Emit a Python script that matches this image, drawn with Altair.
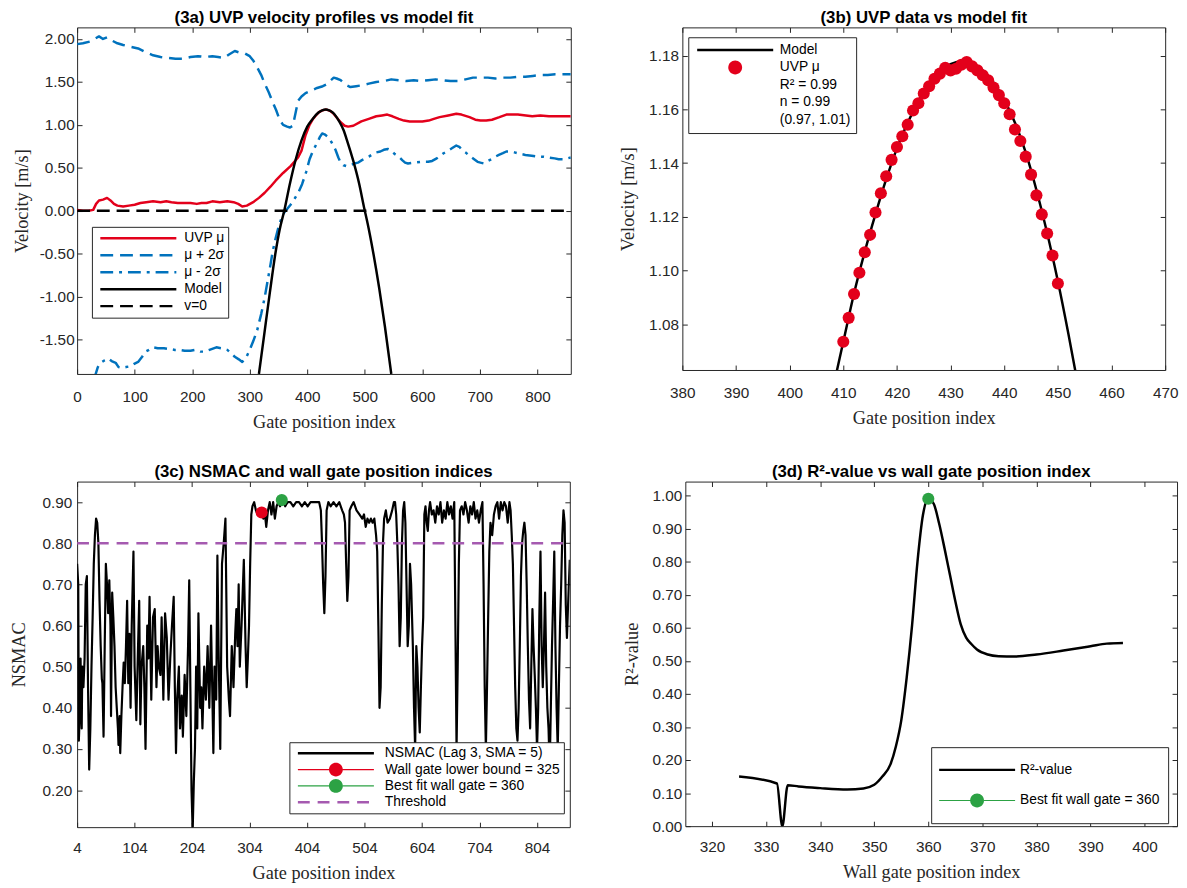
import altair as alt
import pandas as pd

# ---------------------------------------------------------------- data
# (3a) UVP velocity profiles vs model fit  -> (gate index, velocity m/s)
uvp_mu = [(0, 0.01), (10, 0.00), (20, 0.00), (28, 0.01), (33, 0.08), (38, 0.12), (45, 0.13), (52, 0.15),
          (58, 0.12), (64, 0.08), (70, 0.06), (80, 0.05), (90, 0.06), (100, 0.07), (110, 0.09), (120, 0.10),
          (132, 0.11), (145, 0.10), (155, 0.11), (164, 0.10), (175, 0.09), (185, 0.09), (197, 0.09),
          (208, 0.08), (216, 0.09), (225, 0.09), (235, 0.11), (248, 0.10), (261, 0.11), (272, 0.10),
          (280, 0.08), (287, 0.05), (295, 0.06), (306, 0.10), (316, 0.15), (326, 0.21), (336, 0.28),
          (345, 0.35), (358, 0.44), (371, 0.52), (384, 0.62), (390, 0.70), (397, 0.88), (404, 1.00),
          (410, 1.07), (415, 1.11), (420, 1.146), (425, 1.166), (430, 1.175), (433, 1.178), (436, 1.172),
          (440, 1.162), (445, 1.135), (450, 1.095), (458, 1.03), (465, 0.99), (471, 0.98), (480, 0.99),
          (494, 1.04), (507, 1.07), (520, 1.10), (530, 1.11), (539, 1.12), (548, 1.10), (559, 1.07),
          (568, 1.05), (578, 1.04), (590, 1.04), (600, 1.04), (611, 1.05), (620, 1.07), (630, 1.09),
          (645, 1.11), (659, 1.13), (668, 1.12), (682, 1.09), (692, 1.06), (701, 1.05), (711, 1.05),
          (721, 1.06), (734, 1.09), (746, 1.12), (756, 1.12), (766, 1.12), (780, 1.11), (791, 1.10),
          (805, 1.11), (820, 1.10), (835, 1.10), (845, 1.10), (858, 1.10)]
mu_plus_2sigma = [(0, 1.94), (10, 1.95), (22, 1.97), (30, 2.00), (38, 2.03), (45, 2.00), (52, 2.02), (61, 1.98),
                  (70, 1.95), (80, 1.93), (93, 1.91), (106, 1.89), (118, 1.85), (132, 1.81), (145, 1.79),
                  (158, 1.78), (171, 1.77), (184, 1.77), (197, 1.79), (210, 1.80), (222, 1.79), (235, 1.80),
                  (245, 1.79), (255, 1.78), (264, 1.82), (274, 1.86), (283, 1.84), (292, 1.83), (300, 1.80),
                  (306, 1.75), (313, 1.67), (320, 1.58), (326, 1.48), (333, 1.38), (339, 1.28), (346, 1.17),
                  (352, 1.06), (358, 1.00), (365, 0.98), (370, 0.97), (375, 0.99), (380, 1.15), (384, 1.28),
                  (390, 1.33), (397, 1.37), (407, 1.40), (417, 1.43), (427, 1.45), (436, 1.48), (441, 1.52),
                  (446, 1.55), (451, 1.54), (458, 1.52), (466, 1.47), (475, 1.44), (485, 1.45), (494, 1.46),
                  (507, 1.48), (520, 1.50), (533, 1.51), (546, 1.53), (559, 1.52), (572, 1.51), (585, 1.52),
                  (598, 1.51), (610, 1.52), (623, 1.53), (636, 1.52), (649, 1.51), (662, 1.51), (675, 1.53),
                  (688, 1.55), (701, 1.55), (714, 1.55), (727, 1.54), (740, 1.55), (753, 1.55), (766, 1.56),
                  (779, 1.56), (792, 1.57), (805, 1.58), (818, 1.58), (831, 1.59), (845, 1.59), (858, 1.59)]
mu_minus_2sigma = [(30, -1.95), (36, -1.82), (41, -1.77), (48, -1.74), (54, -1.72), (60, -1.75), (67, -1.77),
                   (72, -1.82), (77, -1.83), (85, -1.82), (93, -1.81), (100, -1.78), (106, -1.76), (113, -1.70),
                   (119, -1.64), (125, -1.62), (132, -1.59), (140, -1.60), (151, -1.60), (160, -1.61),
                   (170, -1.62), (177, -1.62), (187, -1.63), (197, -1.63), (205, -1.62), (214, -1.64),
                   (222, -1.64), (230, -1.62), (242, -1.59), (250, -1.60), (261, -1.62), (268, -1.66),
                   (274, -1.70), (281, -1.73), (287, -1.76), (293, -1.72), (300, -1.62), (306, -1.52),
                   (313, -1.39), (320, -1.20), (326, -1.01), (331, -0.82), (336, -0.63), (340, -0.47),
                   (345, -0.32), (350, -0.19), (355, -0.09), (360, -0.02), (365, 0.02), (371, 0.07),
                   (378, 0.14), (385, 0.22), (391, 0.31), (398, 0.45), (404, 0.60), (410, 0.70), (417, 0.79),
                   (422, 0.86), (426, 0.90), (430, 0.89), (436, 0.86), (442, 0.80), (449, 0.71), (454, 0.62),
                   (458, 0.56), (463, 0.53), (468, 0.52), (475, 0.53), (482, 0.55), (488, 0.56), (495, 0.59),
                   (501, 0.61), (507, 0.63), (514, 0.66), (520, 0.68), (527, 0.69), (533, 0.71), (540, 0.72),
                   (546, 0.70), (552, 0.66), (559, 0.63), (565, 0.59), (570, 0.56), (575, 0.55), (585, 0.56),
                   (598, 0.57), (610, 0.57), (617, 0.58), (625, 0.61), (631, 0.64), (637, 0.67), (645, 0.70),
                   (652, 0.73), (659, 0.76), (665, 0.74), (670, 0.70), (675, 0.68), (682, 0.64), (690, 0.60),
                   (696, 0.57), (701, 0.56), (707, 0.55), (714, 0.58), (720, 0.60), (727, 0.63), (733, 0.65),
                   (740, 0.67), (746, 0.69), (753, 0.69), (760, 0.68), (766, 0.67), (772, 0.66), (779, 0.65),
                   (790, 0.64), (800, 0.63), (811, 0.63), (820, 0.62), (830, 0.61), (837, 0.60), (845, 0.60),
                   (852, 0.61), (858, 0.62)]
model_a = [(316, -1.90), (325, -1.45), (335, -0.95), (345, -0.48), (352, -0.22), (360, 0.00), (370, 0.32),
           (380, 0.60), (390, 0.82), (400, 0.98), (410, 1.075), (420, 1.146), (426, 1.170), (432, 1.178),
           (438, 1.170), (444, 1.145), (450, 1.099), (456, 1.035), (463, 0.94), (470, 0.80), (480, 0.58),
           (490, 0.32), (499, 0.03), (505, -0.15), (515, -0.50), (525, -0.90), (535, -1.35), (546, -1.90)]
zero_line = [(0, 0.0), (858, 0.0)]
legend_a_text = ["UVP \u03bc", "\u03bc + 2\u03c3", "\u03bc - 2\u03c3", "Model", "v=0"]

# (3b) UVP data vs model fit
uvp_points = [(410, 1.0735), (411, 1.0824), (412, 1.0913), (413, 1.0992), (414, 1.1068), (415, 1.1133),
              (416, 1.1216), (417, 1.1288), (418, 1.1351), (419, 1.1412), (420, 1.1460), (421, 1.1500),
              (422, 1.1543), (423, 1.1596), (424, 1.1623), (425, 1.1659), (426, 1.1686), (427, 1.1714),
              (428, 1.1733), (429, 1.1755), (430, 1.1745), (431, 1.1751), (432, 1.1766), (433, 1.1776),
              (434, 1.1760), (435, 1.1745), (436, 1.1727), (437, 1.1708), (438, 1.1681), (439, 1.1653),
              (440, 1.1623), (441, 1.1582), (442, 1.1525), (443, 1.1482), (444, 1.1424), (445, 1.1357),
              (446, 1.1280), (447, 1.1209), (448, 1.1138), (449, 1.1056), (450, 1.0952)]
model_b = [(408.5, 1.0600), (410, 1.0735), (412, 1.0915), (414, 1.1070), (416, 1.1210), (418, 1.1340),
           (420, 1.1455), (422, 1.1550), (424, 1.1630), (426, 1.1695), (428, 1.1740), (430, 1.1768),
           (432, 1.1778), (434, 1.1770), (436, 1.1745), (438, 1.1700), (440, 1.1635), (442, 1.1550),
           (444, 1.1440), (446, 1.1300), (448, 1.1140), (450, 1.0960), (452, 1.0760), (453.5, 1.0600)]
legend_b_text = ["Model", "UVP \u03bc", "R\u00b2 = 0.99", "n = 0.99", "(0.97, 1.01)"]

# (3c) NSMAC and wall gate position indices
nsmac = [(4, 0.75), (6, 0.70), (7, 0.32), (9, 0.40), (10, 0.52), (12, 0.35), (13, 0.50), (15, 0.45), (17, 0.52),
         (19, 0.70), (21, 0.72), (23, 0.45), (25, 0.25), (27, 0.35), (29, 0.50), (31, 0.62), (33, 0.75),
         (35, 0.82), (37, 0.86), (39, 0.85), (41, 0.80), (43, 0.66), (45, 0.55), (47, 0.47), (48, 0.46),
         (50, 0.33), (52, 0.55), (54, 0.75), (56, 0.70), (58, 0.63), (60, 0.71), (62, 0.60), (63, 0.38),
         (65, 0.68), (67, 0.62), (69, 0.55), (71, 0.45), (73, 0.40), (75, 0.35), (76, 0.31), (78, 0.38),
         (79, 0.29), (81, 0.38), (83, 0.45), (85, 0.51), (87, 0.46), (89, 0.55), (91, 0.66), (93, 0.46),
         (95, 0.58), (97, 0.40), (99, 0.60), (102, 0.78), (104, 0.50), (107, 0.37), (110, 0.55), (112, 0.66),
         (114, 0.36), (116, 0.50), (119, 0.55), (121, 0.45), (123, 0.30), (126, 0.60), (128, 0.52),
         (130, 0.67), (133, 0.42), (136, 0.62), (139, 0.64), (142, 0.45), (144, 0.55), (146, 0.50),
         (149, 0.48), (151, 0.62), (154, 0.42), (157, 0.63), (160, 0.57), (163, 0.42), (166, 0.52),
         (169, 0.60), (172, 0.67), (174, 0.45), (176, 0.29), (178, 0.42), (181, 0.50), (183, 0.35),
         (186, 0.43), (188, 0.33), (191, 0.48), (194, 0.38), (197, 0.55), (199, 0.71), (201, 0.45),
         (203, 0.20), (205, 0.10), (207, 0.22), (209, 0.30), (211, 0.50), (213, 0.35), (215, 0.63),
         (218, 0.40), (220, 0.45), (222, 0.35), (225, 0.50), (228, 0.42), (231, 0.55), (234, 0.40),
         (237, 0.60), (239, 0.45), (241, 0.29), (243, 0.50), (246, 0.42), (248, 0.77), (250, 0.55),
         (253, 0.30), (256, 0.75), (259, 0.80), (262, 0.86), (265, 0.50), (268, 0.42), (270, 0.38),
         (273, 0.55), (276, 0.45), (279, 0.58), (281, 0.64), (283, 0.55), (285, 0.70), (287, 0.50),
         (290, 0.60), (292, 0.68), (294, 0.76), (297, 0.55), (299, 0.45), (301, 0.52), (303, 0.60),
         (305, 0.75), (307, 0.87), (309, 0.89), (312, 0.90), (315, 0.88), (318, 0.87), (321, 0.88),
         (325, 0.875), (328, 0.86), (330, 0.88), (333, 0.84), (336, 0.88), (339, 0.90), (342, 0.87),
         (345, 0.90), (348, 0.86), (351, 0.89), (354, 0.90), (357, 0.89), (360, 0.905), (363, 0.90),
         (366, 0.89), (370, 0.90), (375, 0.90), (380, 0.89), (385, 0.90), (390, 0.90), (395, 0.89),
         (400, 0.90), (405, 0.89), (410, 0.90), (415, 0.90), (420, 0.90), (425, 0.90), (428, 0.88),
         (430, 0.80), (432, 0.70), (434, 0.63), (436, 0.72), (438, 0.88), (441, 0.90), (445, 0.89),
         (450, 0.90), (455, 0.89), (460, 0.90), (465, 0.88), (468, 0.87), (470, 0.85), (472, 0.75),
         (474, 0.66), (476, 0.72), (478, 0.88), (481, 0.89), (485, 0.90), (490, 0.88), (495, 0.87),
         (500, 0.86), (503, 0.87), (506, 0.84), (509, 0.86), (512, 0.85), (515, 0.86), (518, 0.85),
         (521, 0.86), (524, 0.82), (526, 0.78), (528, 0.60), (530, 0.40), (532, 0.45), (534, 0.65),
         (536, 0.80), (538, 0.86), (541, 0.88), (544, 0.85), (548, 0.86), (552, 0.88), (555, 0.90),
         (557, 0.90), (559, 0.87), (561, 0.80), (563, 0.70), (565, 0.55), (567, 0.62), (569, 0.80),
         (571, 0.88), (573, 0.90), (575, 0.85), (577, 0.70), (579, 0.55), (581, 0.60), (583, 0.75),
         (585, 0.70), (588, 0.55), (590, 0.40), (592, 0.30), (594, 0.55), (596, 0.50), (598, 0.40),
         (600, 0.34), (602, 0.45), (604, 0.55), (606, 0.62), (608, 0.87), (610, 0.89), (612, 0.85),
         (614, 0.83), (616, 0.88), (618, 0.90), (621, 0.87), (624, 0.88), (627, 0.85), (630, 0.89),
         (633, 0.87), (636, 0.90), (639, 0.85), (642, 0.88), (645, 0.86), (648, 0.90), (651, 0.87),
         (654, 0.89), (657, 0.86), (660, 0.90), (662, 0.60), (664, 0.30), (666, 0.50), (668, 0.75),
         (670, 0.88), (673, 0.89), (676, 0.87), (679, 0.90), (682, 0.88), (685, 0.85), (688, 0.89),
         (691, 0.87), (694, 0.90), (697, 0.86), (700, 0.88), (703, 0.85), (706, 0.88), (709, 0.90),
         (711, 0.70), (713, 0.45), (715, 0.30), (717, 0.45), (719, 0.62), (721, 0.78), (723, 0.85),
         (726, 0.82), (729, 0.87), (732, 0.89), (735, 0.90), (738, 0.86), (741, 0.90), (744, 0.88),
         (747, 0.90), (750, 0.89), (753, 0.85), (756, 0.90), (758, 0.88), (760, 0.82), (762, 0.75),
         (764, 0.60), (766, 0.45), (768, 0.35), (770, 0.32), (772, 0.40), (774, 0.55), (776, 0.72),
         (778, 0.80), (780, 0.83), (782, 0.85), (784, 0.82), (786, 0.70), (788, 0.55), (790, 0.42),
         (792, 0.35), (794, 0.50), (796, 0.64), (798, 0.55), (800, 0.48), (802, 0.40), (804, 0.30),
         (806, 0.40), (808, 0.62), (810, 0.78), (812, 0.55), (814, 0.45), (816, 0.55), (818, 0.68),
         (820, 0.50), (822, 0.40), (824, 0.35), (826, 0.25), (828, 0.40), (830, 0.55), (832, 0.66),
         (834, 0.78), (836, 0.55), (838, 0.40), (840, 0.30), (842, 0.45), (844, 0.60), (846, 0.70),
         (848, 0.82), (850, 0.88), (852, 0.85), (854, 0.65), (856, 0.57), (858, 0.65), (861, 0.76)]
wall_lower_bound = [(325, 0.875)]
best_fit_c = [(360, 0.905)]
threshold = [(4, 0.80), (861, 0.80)]
legend_c_text = ["NSMAC (Lag 3, SMA = 5)", "Wall gate lower bound = 325", "Best fit wall gate = 360", "Threshold"]

# (3d) R^2-value vs wall gate position index
r2_curve = [(325, 0.150), (332, 0.129), (333, 0.000), (334, 0.124), (336, 0.120), (340, 0.115), (345, 0.111),
            (348, 0.114), (350, 0.125), (351.5, 0.150), (353, 0.187), (354, 0.241), (355, 0.320), (356, 0.449),
            (357, 0.608), (358, 0.800), (359, 0.940), (360, 0.990), (361, 0.975), (362, 0.915), (363, 0.840),
            (364, 0.760), (365, 0.680), (366, 0.610), (367, 0.570), (368, 0.550), (369, 0.534), (371, 0.519),
            (373, 0.514), (376, 0.513), (380, 0.519), (385, 0.531), (390, 0.544), (393, 0.552), (396, 0.554)]
best_fit_d = [(360, 0.99)]
legend_d_text = ["R\u00b2-value", "Best fit wall gate = 360"]

# axis ticks
ticks_a_x = [0, 100, 200, 300, 400, 500, 600, 700, 800]
ticks_a_y = [-1.5, -1.0, -0.5, 0.0, 0.5, 1.0, 1.5, 2.0]
ticks_b_x = [380, 390, 400, 410, 420, 430, 440, 450, 460, 470]
ticks_b_y = [1.08, 1.10, 1.12, 1.14, 1.16, 1.18]
ticks_c_x = [4, 104, 204, 304, 404, 504, 604, 704, 804]
ticks_c_y = [0.2, 0.3, 0.4, 0.5, 0.6, 0.7, 0.8, 0.9]
ticks_d_x = [320, 330, 340, 350, 360, 370, 380, 390, 400]
ticks_d_y = [0.0, 0.1, 0.2, 0.3, 0.4, 0.5, 0.6, 0.7, 0.8, 0.9, 1.0]

# ---------------------------------------------------------------- styling
FONT = "Liberation Sans"
SERIF = "Liberation Serif"
AXC = "#262626"
RED = "#E3001B"
BLUE = "#0072BD"
GREEN = "#2CA244"
PURPLE = "#A55AB0"
CLEAR = "rgba(0,0,0,0)"
LABEL2 = "(datum.value < 0 ? '-' : '') + format(abs(datum.value), '.2f')"

SYM = 77.0
UNIT = SYM / 2.0


def _r(v):
    return f"{v:.4f}"


def p_rect(x0, x1, half):
    return f"M{_r(x0)},{_r(-half)}H{_r(x1)}V{_r(half)}H{_r(x0)}Z"


def p_line(width):
    return p_rect(-1.0, 1.0, width / 2 / UNIT)


def p_pattern(width, pattern):
    half = width / 2 / UNIT
    out, pos, i = [], -1.0, 0
    while pos < 1.0:
        ln = pattern[i % len(pattern)] / UNIT
        if i % 2 == 0:
            out.append(p_rect(pos, min(pos + ln, 1.0), half))
        pos += ln
        i += 1
    return "".join(out)


def p_circle(radius):
    r = radius / UNIT
    return f"M{_r(r)},0A{_r(r)},{_r(r)},0,1,1,{_r(-r)},0A{_r(r)},{_r(r)},0,1,1,{_r(r)},0Z"


def p_line_dot(width, radius):
    half = width / 2 / UNIT
    r = radius / UNIT
    return p_rect(-1.0, -r, half) + p_rect(r, 1.0, half) + p_circle(radius)


def frame(xdom, ydom, xticks, yticks, xtitle, ytitle, ylab_pad, ytitle_pad, xlab_pad, xtitle_pad):
    empty = pd.DataFrame({"x": pd.Series([], dtype=float), "y": pd.Series([], dtype=float)})
    xs = alt.Scale(domain=xdom, nice=False, zero=False)
    ys = alt.Scale(domain=ydom, nice=False, zero=False)
    tk = dict(offset=-5, tickSize=5, tickColor=AXC, tickWidth=1, domain=False, grid=False, minExtent=0)
    main = alt.Chart(empty).mark_point(opacity=0).encode(
        x=alt.X("x:Q", scale=xs, axis=alt.Axis(orient="bottom", values=xticks,
                                               labelExpr="format(datum.value, 'd')", labelPadding=xlab_pad,
                                               title=xtitle, titlePadding=xtitle_pad, **tk)),
        y=alt.Y("y:Q", scale=ys, axis=alt.Axis(orient="left", values=yticks, labelExpr=LABEL2,
                                               labelPadding=ylab_pad, title=ytitle,
                                               titlePadding=ytitle_pad, **tk)))
    mirror = alt.Chart(empty).mark_point(opacity=0).encode(
        x=alt.X("x:Q", scale=xs, axis=alt.Axis(orient="top", values=xticks, labels=False, title=None, **tk)),
        y=alt.Y("y:Q", scale=ys, axis=alt.Axis(orient="right", values=yticks, labels=False, title=None, **tk)))
    return xs, ys, [main, mirror]


def line(pairs, xs, ys, color, width, dash=None, interp="linear"):
    df = pd.DataFrame(pairs, columns=["x", "y"])
    kw = dict(color=color, strokeWidth=width, clip=True, interpolate=interp, strokeJoin="round")
    if dash is not None:
        kw["strokeDash"] = dash
    return alt.Chart(df).mark_line(**kw).encode(
        x=alt.X("x:Q", scale=xs, axis=None), y=alt.Y("y:Q", scale=ys, axis=None))


def dots(pairs, xs, ys, color, size):
    df = pd.DataFrame(pairs, columns=["x", "y"])
    return alt.Chart(df).mark_circle(color=color, size=size, opacity=1, clip=True).encode(
        x=alt.X("x:Q", scale=xs, axis=None), y=alt.Y("y:Q", scale=ys, axis=None))


def legend_layer(entries, colors, shapes, x, y, pad, clip_h, row_pad, sym_off, lab_off):
    leg = alt.Legend(title=None, orient="none", legendX=x, legendY=y, direction="vertical", columns=1,
                     padding=pad, clipHeight=clip_h, rowPadding=row_pad, symbolSize=SYM * SYM,
                     symbolStrokeWidth=0, symbolOffset=sym_off, symbolOpacity=1, labelOffset=lab_off,
                     labelFont=FONT, labelFontSize=14, labelColor="black", labelLimit=400,
                     strokeColor=AXC, fillColor="white", cornerRadius=0)
    df = pd.DataFrame({"entry": entries})
    return alt.Chart(df).transform_filter("false").mark_point(filled=True).encode(
        color=alt.Color("entry:N", scale=alt.Scale(domain=entries, range=colors), legend=leg),
        shape=alt.Shape("entry:N", scale=alt.Scale(domain=entries, range=shapes), legend=leg))


def panel(layers, title, width, height):
    return alt.layer(*layers).resolve_axis(x="independent", y="independent").properties(
        width=width, height=height, title=alt.TitleParams(title, offset=0))


DASH = [13, 7]
DASHDOT = [13, 6, 3, 6]

# ---------------------------------------------------------------- (3a)
xs, ys, fr = frame([0, 858], [-1.9, 2.135], ticks_a_x, ticks_a_y, "Gate position index", "Velocity [m/s]",
                   3, 8, 16, 8)
panel_a = panel(fr + [
    line(uvp_mu, xs, ys, RED, 2.5),
    line(mu_plus_2sigma, xs, ys, BLUE, 2.5, DASH),
    line(mu_minus_2sigma, xs, ys, BLUE, 2.5, DASHDOT),
    line(model_a, xs, ys, "black", 2.5, interp="monotone"),
    line(zero_line, xs, ys, "black", 2.5, DASH),
    legend_layer(legend_a_text, [RED, BLUE, BLUE, "black", "black"],
                 [p_line(2.5), p_pattern(2.5, DASH), p_pattern(2.5, DASHDOT), p_line(2.5), p_pattern(2.5, DASH)],
                 15, 202, 3.5, 16, 1.2, 5, 8),
], "(3a) UVP velocity profiles vs model fit", 500, 351)

# ---------------------------------------------------------------- (3b)
xs, ys, fr = frame([380, 470], [1.063, 1.1905], ticks_b_x, ticks_b_y, "Gate position index", "Velocity [m/s]",
                   4, 11, 16, 8)
panel_b = panel(fr + [
    line(model_b, xs, ys, "black", 2.5, interp="monotone"),
    dots(uvp_points, xs, ys, RED, 150),
    legend_layer(legend_b_text, ["black", RED, CLEAR, CLEAR, CLEAR],
                 [p_line(2.5), p_circle(7), p_circle(7), p_circle(7), p_circle(7)],
                 6, 10, 5, 16, 1.6, 4, 6.7),
], "(3b) UVP data vs model fit", 489, 347)

# ---------------------------------------------------------------- (3c)
xs, ys, fr = frame([4, 861], [0.11, 0.95], ticks_c_x, ticks_c_y, "Gate position index", "NSMAC",
                   5.5, 14, 14, 8)
panel_c = panel(fr + [
    line(nsmac, xs, ys, "black", 2.2),
    line(threshold, xs, ys, PURPLE, 2.5, [12, 8]),
    dots(wall_lower_bound, xs, ys, RED, 150),
    dots(best_fit_c, xs, ys, GREEN, 150),
    legend_layer(legend_c_text, ["black", RED, GREEN, PURPLE],
                 [p_line(2.5), p_line_dot(1.2, 7), p_line_dot(1.2, 7), p_pattern(2.5, [12, 8])],
                 215, 264, 3.2, 16, 0.5, 5.4, 11),
], "(3c) NSMAC and wall gate position indices", 499, 350)

# ---------------------------------------------------------------- (3d)
xs, ys, fr = frame([315.06, 406], [0, 1.042], ticks_d_x, ticks_d_y, "Wall gate position index", "R\u00b2-value",
                   3.5, 11, 14, 8)
panel_d = panel(fr + [
    line(r2_curve, xs, ys, "black", 2.5, interp="monotone"),
    dots(best_fit_d, xs, ys, GREEN, 150),
    legend_layer(legend_d_text, ["black", GREEN], [p_line(2.5), p_line_dot(1.2, 7)],
                 249, 269, 8, 30, 1, 0, 5),
], "(3d) R\u00b2-value vs wall gate position index", 498, 349)


def indep(c):
    return c.resolve_scale(color="independent", shape="independent").resolve_legend(
        color="independent", shape="independent")


row1 = indep(alt.hconcat(panel_a, panel_b, spacing=47))
row2 = indep(alt.hconcat(panel_c, panel_d, spacing=51))
chart = indep(alt.vconcat(row1, row2, spacing=31)).properties(
    padding={"top": -5, "left": 0, "right": 0, "bottom": 0}
).configure_view(stroke=AXC, strokeWidth=1).configure_axis(
    labelFont=FONT, labelFontSize=15.5, labelColor=AXC, titleFont=SERIF, titleFontSize=18.5,
    titleFontWeight="normal", titleColor=AXC, labelFlush=False, labelOverlap=False
).configure_title(font=FONT, fontSize=17, fontWeight="bold", color="black", anchor="middle")

chart.save("out.html", embed_options={"renderer": "svg", "actions": False})
